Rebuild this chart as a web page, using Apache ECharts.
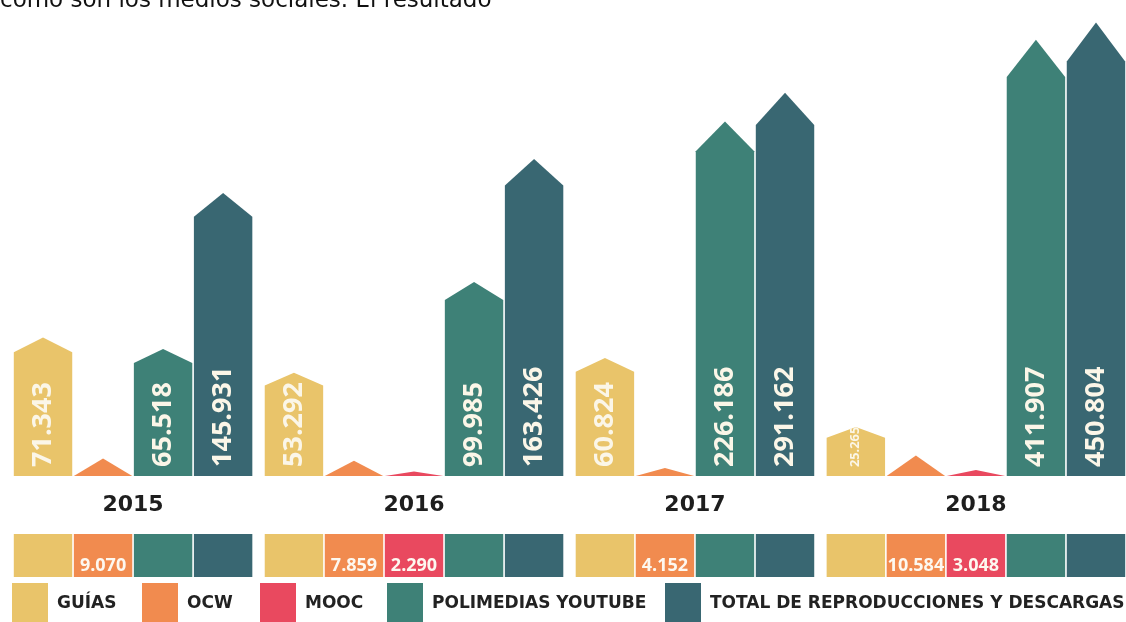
<!DOCTYPE html>
<html>
<head>
<meta charset="utf-8">
<title>Reproducciones y descargas 2015-2018</title>
<script src="https://cdn.jsdelivr.net/npm/echarts@6.0.0/dist/echarts.min.js"></script>
<style>
  html, body { margin: 0; padding: 0; background: #fff; }
  #main { width: 1126px; height: 622px; }
</style>
</head>
<body>
<div id="main"></div>
<script>
// datos por año
var years = ['2015', '2016', '2017', '2018'];
var guias = [71343, 53292, 60824, 25265];
var ocw = [9070, 7859, 4152, 10584];
var mooc = [null, 2290, null, 3048];
var polimedias = [65518, 99985, 226186, 411907];
var total = [145931, 163426, 291162, 450804];

var seriesNames = ['GUÍAS', 'OCW', 'MOOC', 'POLIMEDIAS YOUTUBE', 'TOTAL DE REPRODUCCIONES Y DESCARGAS'];
var seriesValues = [guias, ocw, mooc, polimedias, total];

// estilo
var seriesColors = ['#e9c46a', '#f18b4f', '#e9495f', '#3e8177', '#396772'];
var labelOnTop = [true, false, false, true, true];
var legendLeft = [12, 142, 260, 387, 665];
var YEAR_GAP = 0.18;

// posiciones de cada hueco (un hueco por serie presente en el año)
var slotX = seriesValues.map(function () { return []; });
var yearCenter = [];
var pos = 0;
years.forEach(function (y, i) {
  var start = pos;
  seriesValues.forEach(function (vals, s) {
    if (vals[i] == null) return;
    slotX[s][i] = pos + 0.5;
    pos += 1;
  });
  yearCenter.push((start + pos) / 2);
  pos += YEAR_GAP;
});
var xMax = pos - YEAR_GAP;

function fmt(v) {
  return String(v).replace(/\B(?=(\d{3})+(?!\d))/g, '.');
}

function makeRender(s) {
  return function (params, api) {
    var xv = api.value(0), v = api.value(1);
    var base = api.coord([xv, 0]);
    var top = api.coord([xv, v]);
    var w = api.size([1, 0])[0];
    var x0 = base[0] - w / 2 + 0.8, x1 = base[0] + w / 2 - 0.8;
    var h = base[1] - top[1];
    var tip = h < 30 ? h : Math.min(h, 9 + 0.03 * h + 0.00008 * h * h);
    var children = [{
      type: 'polygon',
      shape: { points: [[x0, base[1]], [x0, top[1] + tip], [base[0], top[1]], [x1, top[1] + tip], [x1, base[1]]] },
      style: { fill: seriesColors[s] }
    }];
    var txt = fmt(v);
    if (labelOnTop[s]) {
      var fs = Math.min(27, (h - 6) / (txt.length * 0.56));
      children.push({
        type: 'text', x: base[0], y: base[1] - 9, rotation: Math.PI / 2,
        style: { text: txt, fill: '#fbf6e8', fontSize: fs, fontWeight: 'bold', fontFamily: 'Open Sans', align: 'left', verticalAlign: 'middle' }
      });
    }
    // franja inferior
    var rowTop = base[1] + 58;
    children.push({
      type: 'rect',
      shape: { x: x0, y: rowTop, width: x1 - x0, height: 43 },
      style: { fill: seriesColors[s] }
    });
    if (!labelOnTop[s]) {
      children.push({
        type: 'text', x: base[0], y: rowTop + 32,
        style: { text: txt, fill: '#fdf8f0', fontSize: 18, fontWeight: 'bold', fontFamily: 'Open Sans', align: 'center', verticalAlign: 'middle' }
      });
    }
    return { type: 'group', children: children };
  };
}

var series = seriesNames.map(function (name, s) {
  var data = [];
  seriesValues[s].forEach(function (v, i) {
    if (v != null) data.push([slotX[s][i], v]);
  });
  return {
    name: name,
    type: 'custom',
    clip: false,
    itemStyle: { color: seriesColors[s] },
    renderItem: makeRender(s),
    data: data
  };
});

series.push({
  name: 'años',
  type: 'custom',
  clip: false,
  silent: true,
  renderItem: function (params, api) {
    var p = api.coord([api.value(0), 0]);
    return {
      type: 'text', x: p[0], y: p[1] + 29,
      style: { text: years[params.dataIndex], fill: '#1e1e1e', fontSize: 22, fontWeight: 'bold', fontFamily: 'DejaVu Sans', align: 'center', verticalAlign: 'middle' }
    };
  },
  data: yearCenter.map(function (c) { return [c, 0]; })
});

var myChart = echarts.init(document.getElementById('main'));
myChart.setOption({
  animation: false,
  backgroundColor: '#fff',
  grid: { left: 13, right: 0, top: 11, bottom: 146 },
  xAxis: { type: 'value', min: 0, max: xMax, show: false },
  yAxis: {
    type: 'value', min: 0, max: 460000, show: false,
    breaks: [{ start: 170000, end: 455000, gap: '27%' }],
    breakArea: { show: false }
  },
  legend: seriesNames.map(function (n, i) {
    return {
      data: [n], left: legendLeft[i], top: 583, padding: 0,
      icon: 'rect', itemWidth: 36, itemHeight: 42, selectedMode: false,
      textStyle: { fontFamily: 'DejaVu Sans', fontWeight: 'bold', fontSize: 17, color: '#222', padding: [0, 0, 0, 4] }
    };
  }),
  graphic: [{
    type: 'text', x: 0, y: 13,
    style: { text: 'como son los medios sociales. El resultado', fontFamily: 'DejaVu Sans', fontSize: 23, fill: '#111', verticalAlign: 'bottom' }
  }],
  series: series
});
</script>
</body>
</html>
